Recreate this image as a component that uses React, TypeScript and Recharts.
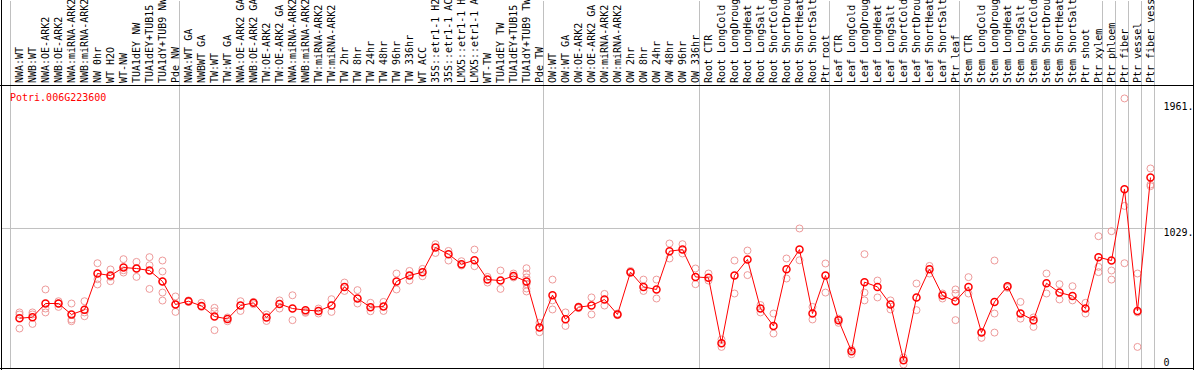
import React from 'react';
import { ComposedChart, Line, Scatter, XAxis, YAxis, ReferenceLine } from 'recharts';

const geneName = 'Potri.006G223600';

const categories = [
  'NWA:WT', 'NWB:WT', 'NWA:OE-ARK2', 'NWB:OE-ARK2', 'NWA:miRNA-ARK2', 'NWB:miRNA-ARK2', 'NW 0hr', 'WT H2O',
  'WT-NW', 'TUA1dEY NW', 'TUA1dEY+TUB15 NW', 'TUA1dY+TUB9 NW', 'Pde NW',
  'NWA:WT GA', 'NWBWT GA', 'TW:WT', 'TW:WT GA', 'NWA:OE-ARK2 GA', 'NWB:OE-ARK2 GA', 'TW:OE-ARK2', 'TW:OE-ARK2 GA',
  'NWA:miRNA-ARK2', 'NWB:miRNA-ARK2', 'TW:miRNA-ARK2', 'TW:miRNA-ARK2', 'TW 2hr', 'TW 8hr', 'TW 24hr', 'TW 48hr',
  'TW 96hr', 'TW 336hr', 'WT ACC', '35S::etr1-1 H2O', '35S::etr1-1 ACC', 'LMX5::etr1-1 H2O', 'LMX5::etr1-1 ACC',
  'WT-TW', 'TUA1dEY TW', 'TUA1dEY+TUB15 TW', 'TUA1dY+TUB9 TW', 'Pde TW',
  'OW:WT', 'OW:WT GA', 'OW:OE-ARK2', 'OW:OE-ARK2 GA', 'OW:miRNA-ARK2', 'OW:miRNA-ARK2', 'OW 2hr', 'OW 8hr',
  'OW 24hr', 'OW 48hr', 'OW 96hr', 'OW 336hr',
  'Root CTR', 'Root LongCold', 'Root LongDrought', 'Root LongHeat', 'Root LongSalt', 'Root ShortCold',
  'Root ShortDrought', 'Root ShortHeat', 'Root ShortSalt', 'Ptr root',
  'Leaf CTR', 'Leaf LongCold', 'Leaf LongDrought', 'Leaf LongHeat', 'Leaf LongSalt', 'Leaf ShortCold',
  'Leaf ShortDrought', 'Leaf ShortHeat', 'Leaf ShortSalt', 'Ptr leaf',
  'Stem CTR', 'Stem LongCold', 'Stem LongDrought', 'Stem LongHeat', 'Stem LongSalt', 'Stem ShortCold',
  'Stem ShortDrought', 'Stem ShortHeat', 'Stem ShortSalt', 'Ptr shoot', 'Ptr xylem',
  'Ptr phloem', 'Ptr fiber', 'Ptr vessel', 'Ptr fiber vessel',
];

// index where each experiment group starts (grey separator before it)
const groupStarts = [0, 13, 41, 53, 63, 73, 84, 85, 86, 87, 88];

const means = [
  365, 373, 474, 474, 393, 427, 696, 681, 740, 733, 718, 637, 467,
  491, 456, 378, 360, 459, 479, 371, 471, 437, 425, 419, 459, 597, 511, 447, 452, 637, 681, 706, 888, 839, 765,
  794, 651, 644, 678, 637, 297,
  536, 358, 447, 459, 504, 393, 706, 597, 578, 861, 873, 671,
  664, 180, 681, 800, 437, 308, 728, 873, 400, 681,
  351, 121, 632, 597, 467, 55, 519, 728, 533, 491,
  597, 259, 486, 602, 400, 351, 624, 555, 530, 437, 817,
  792, 1320, 419, 1406,
];

const replicates = [
  [408, 393, 289], [408, 393, 323], [578, 437, 408], [491, 474, 449], [474, 356, 343], [491, 408, 380],
  [772, 654, 615], [726, 671, 639], [802, 720, 703], [782, 733, 671], [817, 757, 582],
  [792, 711, 637, 555, 496], [526, 467, 412],
  [497, 486], [479, 449], [442, 417, 277], [371, 343], [491, 419], [486, 469], [393, 345], [497, 437],
  [535, 351], [412, 405], [437, 400], [506, 412], [629, 567], [573, 474], [479, 417], [486, 419],
  [696, 578], [715, 644], [730, 676], [913, 848], [863, 792], [787, 755], [873, 750],
  [671, 629], [718, 582], [696, 667], [735, 696, 667, 617, 585, 563], [331, 262],
  [651, 497, 430], [408, 308], [452, 440], [519, 393], [545, 459], [400, 388], [715, 700], [651, 567],
  [651, 511], [918, 807], [913, 844], [733, 617],
  [696, 644], [208, 153], [792, 548], [866, 684], [463, 408], [400, 252], [807, 659], [1029, 794],
  [449, 356], [770, 555],
  [362, 331], [134, 99], [839, 555, 497], [644, 519], [497, 430], [75, 23], [622, 425], [752, 696],
  [548, 511], [578, 548, 351],
  [669, 548], [262, 220], [792, 400, 259], [597, 590], [486, 362], [371, 301], [696, 548], [617, 504],
  [602, 497], [479, 400], [972, 745, 706],
  [1009, 718, 651], [1991, 1196, 772], [696, 408, 153], [1473, 1354, 1342],
];

const valueTicks = [0, 1029, 1961];

const rows = categories.map((name, i) => ({ i, name, mean: means[i] }));
const repPoints = replicates.flatMap((vals, i) => vals.map((v) => ({ i, v })));

// axis ranges chosen so the plot fills the frame (plot spans y 1..369, x 1..1193)
const X_MIN = -1.423;
const X_MAX = 90.27;
const Y_MIN = -10.4;
const Y_MAX = 2711.7;
const GRID_SHIFT = -0.6923;

const FONT = 'DejaVu Sans Mono';

const renderHeaderTick = (props: any) => {
  const { x, payload } = props;
  return (
    <text
      key={`h-${payload.value}`}
      transform={`translate(${x + 3.5},83) rotate(-90)`}
      fontFamily={FONT}
      fontSize={10}
      fill="#000"
      textAnchor="start"
    >
      {categories[payload.value]}
    </text>
  );
};

const renderValueTick = (props: any) => {
  const { y, payload } = props;
  const ty = payload.value === 0 ? y - 1.5 : y + 8;
  return (
    <text key={`v-${payload.value}`} x={1163.5} y={ty} fontFamily={FONT} fontSize={10} fill="#000" textAnchor="start">
      {payload.value === 0 ? '0' : `${payload.value}.`}
    </text>
  );
};

const RepDot = (props: any) => (
  <circle cx={props.cx} cy={props.cy} r={3.5} fill="none" stroke="#ee9a9a" strokeWidth={1} />
);

export default function App() {
  return (
    <div style={{ position: 'relative', width: 1194, height: 370, background: '#fff' }}>
      <style>{'body{margin:0}'}</style>
      <ComposedChart width={1194} height={370} data={rows} margin={{ top: 0, right: 0, bottom: 1, left: 1 }}>
        <XAxis
          type="number"
          dataKey="i"
          orientation="top"
          height={1}
          domain={[X_MIN, X_MAX]}
          allowDataOverflow
          ticks={rows.map((r) => r.i)}
          interval={0}
          tick={renderHeaderTick}
          axisLine={false}
          tickLine={false}
        />
        <YAxis
          type="number"
          orientation="right"
          width={1}
          domain={[Y_MIN, Y_MAX]}
          allowDataOverflow
          ticks={valueTicks}
          interval={0}
          tick={renderValueTick}
          axisLine={false}
          tickLine={false}
        />
        {groupStarts.map((k) => (
          <ReferenceLine key={k} x={k + GRID_SHIFT} stroke="#c0c0c0" strokeWidth={1} />
        ))}
        <ReferenceLine
          segment={[{ x: X_MIN, y: 1029 }, { x: 88, y: 1029 }]}
          stroke="#c0c0c0"
          strokeWidth={1}
        />
        <Scatter data={repPoints} dataKey="v" shape={<RepDot />} isAnimationActive={false} />
        <Line
          type="linear"
          dataKey="mean"
          stroke="#ff0000"
          strokeWidth={1}
          dot={{ r: 3.5, stroke: '#ff0000', strokeWidth: 1.5, fill: 'none' }}
          activeDot={false}
          isAnimationActive={false}
          zIndex={700}
        />
      </ComposedChart>
      <svg
        width={1194}
        height={370}
        style={{ position: 'absolute', left: 0, top: 0, pointerEvents: 'none' }}
      >
        <line x1={0} y1={85.5} x2={1194} y2={85.5} stroke="#000" />
        <line x1={0} y1={368.5} x2={1194} y2={368.5} stroke="#000" />
        <line x1={1.5} y1={0} x2={1.5} y2={370} stroke="#000" />
        <line x1={1193.5} y1={0} x2={1193.5} y2={370} stroke="#000" />
        <text x={10} y={100.5} fontFamily={FONT} fontSize={10} fill="#ff0000">
          {geneName}
        </text>
      </svg>
    </div>
  );
}
